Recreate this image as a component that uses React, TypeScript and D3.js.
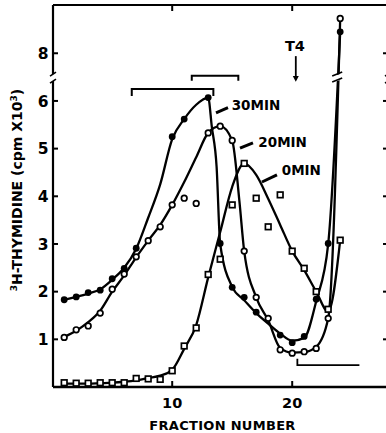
import { useEffect, useRef } from "react"
import * as d3 from "d3"

const W = 386
const H = 433

// 0 MIN  (open squares)
const frac0 = [1,2,3,4,5,6,7,8,9,10,11,12,13,14,15,16,17,18,19,20,21,22,23,24]
const cpm0 = [0.09,0.08,0.08,0.09,0.09,0.09,0.18,0.17,0.16,0.34,0.86,1.24,2.36,2.68,3.82,4.69,3.96,3.36,4.03,2.85,2.49,2.0,1.63,3.08]
// 20 MIN (open circles)
const frac20 = [1,2,3,4,5,6,7,8,9,10,11,12,13,14,15,16,17,18,19,20,21,22,23,24]
const cpm20 = [1.04,1.2,1.28,1.55,2.05,2.37,2.73,3.07,3.36,3.82,3.96,3.85,5.33,5.47,5.17,2.85,1.88,1.44,0.78,0.71,0.74,0.81,1.44,8.73]
// 30 MIN (filled circles)
const frac30 = [1,2,3,4,5,6,7,10,11,13,14,15,16,17,19,20,21,22,23,24]
const cpm30 = [1.83,1.89,1.98,2.03,2.27,2.49,2.91,5.25,5.62,6.07,3.01,2.09,1.88,1.57,1.09,0.93,1.06,1.84,3.01,8.45]

// hand drawn fit curves (knots)
const fit0Frac = [1,2,3,4,5,6,7,8,9,10,11,12,13,14,15,16,17,18,19,20,21,22,23,24]
const fit0Cpm = [0.07,0.07,0.07,0.08,0.09,0.11,0.14,0.19,0.24,0.36,0.8,1.3,2.3,3.25,4.2,4.69,4.45,3.95,3.4,2.85,2.45,2.0,1.58,3.08]
const fit20Frac = [1,2,3,4,5,6,7,8,9,10,11,12,13,14,15,15.6,16,17,18,19,20,21,22,23,24]
const fit20Cpm = [1.05,1.18,1.36,1.6,2.0,2.34,2.72,3.07,3.4,3.82,4.3,4.82,5.33,5.47,5.17,3.9,2.85,1.88,1.4,0.82,0.72,0.73,0.84,1.44,8.73]
const fit30Frac = [1,2,3,4,5,6,7,8,9,10,11,12,13,13.3,13.7,14,15,16,17,18,19,20,21,22,23,24]
const fit30Cpm = [1.83,1.89,1.96,2.05,2.25,2.5,2.9,3.55,4.25,5.2,5.62,5.92,6.07,5.46,4.62,3.0,2.1,1.82,1.55,1.33,1.12,0.97,1.03,1.8,3.0,8.45]

const yTicks = [1,2,3,4,5,6,8]
const xTicks = [10,20]
const seriesLabels = ["30MIN","20MIN","0MIN"]

export default function App() {
  const ref = useRef<SVGSVGElement>(null)

  useEffect(() => {
    const svg = d3.select(ref.current)
    svg.selectAll("*").remove()

    const x = d3.scaleLinear().domain([0, 28]).range([52.2, 388.2])
    // broken axis: 0..6.5 and 7.5..9
    const y = d3.scaleLinear().domain([0, 6.5, 7.5, 9]).range([387, 77.1, 77.1, 5.6])

    const font = "'DejaVu Sans', Arial, Helvetica, sans-serif"
    const g = svg.append("g")

    const left = 53, right = 388, top = 5, bottom = 387
    const yb = y(6.5)

    // frame
    g.append("line").attr("x1", left).attr("x2", right).attr("y1", bottom).attr("y2", bottom)
      .attr("stroke", "#000").attr("stroke-width", 2.6)
    g.append("line").attr("x1", left).attr("x2", right).attr("y1", top).attr("y2", top)
      .attr("stroke", "#000").attr("stroke-width", 2.2)
    for (const ax of [left, right]) {
      g.append("line").attr("x1", ax).attr("x2", ax).attr("y1", top).attr("y2", yb - 3)
        .attr("stroke", "#000").attr("stroke-width", 2.2)
      g.append("line").attr("x1", ax).attr("x2", ax).attr("y1", yb + 4).attr("y2", bottom)
        .attr("stroke", "#000").attr("stroke-width", 2.2)
      g.append("line").attr("x1", ax - 3).attr("x2", ax + 3).attr("y1", yb - 1).attr("y2", yb - 5)
        .attr("stroke", "#000").attr("stroke-width", 1.6)
      g.append("line").attr("x1", ax - 3).attr("x2", ax + 3).attr("y1", yb + 6).attr("y2", yb + 2)
        .attr("stroke", "#000").attr("stroke-width", 1.6)
    }

    // ticks
    yTicks.forEach(t => {
      g.append("line").attr("x1", left).attr("x2", left + 5).attr("y1", y(t)).attr("y2", y(t))
        .attr("stroke", "#000").attr("stroke-width", 2)
      g.append("line").attr("x1", right - 5).attr("x2", right).attr("y1", y(t)).attr("y2", y(t))
        .attr("stroke", "#000").attr("stroke-width", 2)
      g.append("text").attr("x", 48.5).attr("y", y(t) + 5.6).attr("text-anchor", "end")
        .attr("font-family", font).attr("font-weight", "bold").attr("font-size", 15.5).text(t)
    })
    xTicks.forEach(t => {
      g.append("line").attr("x1", x(t)).attr("x2", x(t)).attr("y1", bottom).attr("y2", bottom - 6)
        .attr("stroke", "#000").attr("stroke-width", 2)
      g.append("line").attr("x1", x(t)).attr("x2", x(t)).attr("y1", top).attr("y2", top + 6)
        .attr("stroke", "#000").attr("stroke-width", 2)
      g.append("text").attr("x", x(t)).attr("y", 408).attr("text-anchor", "middle")
        .attr("font-family", font).attr("font-weight", "bold").attr("font-size", 14.5).text(t)
    })

    g.append("text").attr("x", 222.5).attr("y", 429.5).attr("text-anchor", "middle")
      .attr("font-family", font).attr("font-weight", "bold").attr("font-size", 13)
      .attr("letter-spacing", 0.3).text("FRACTION NUMBER")

    const yl = g.append("text").attr("transform", "translate(21.5,190) rotate(-90)")
      .attr("text-anchor", "middle").attr("font-family", font).attr("font-weight", "bold")
      .attr("font-size", 14)
    yl.append("tspan").attr("font-size", 9).attr("dy", -5).text("3")
    yl.append("tspan").attr("dy", 5).text("H-THYMIDINE (cpm X10")
    yl.append("tspan").attr("font-size", 9).attr("dy", -5).text("3")
    yl.append("tspan").attr("dy", 5).text(")")

    // curves
    const line = d3.line<[number, number]>().x(d => x(d[0])).y(d => y(d[1])).curve(d3.curveMonotoneX)
    const fits: [number[], number[]][] = [[fit0Frac, fit0Cpm], [fit20Frac, fit20Cpm], [fit30Frac, fit30Cpm]]
    fits.forEach(([fx, fy]) => {
      g.append("path").attr("d", line(fx.map((f, i) => [f, fy[i]] as [number, number])))
        .attr("fill", "none").attr("stroke", "#000").attr("stroke-width", 2.3)
    })

    // break on the steep right-hand lines
    const bx = x(23.75)
    g.append("polygon")
      .attr("points", `${bx - 9},${yb + 1} ${bx + 9},${yb - 5} ${bx + 9},${yb + 1} ${bx - 9},${yb + 7}`)
      .attr("fill", "#fff")
    g.append("line").attr("x1", bx - 5).attr("x2", bx + 5).attr("y1", yb - 1).attr("y2", yb - 5)
      .attr("stroke", "#000").attr("stroke-width", 1.6)
    g.append("line").attr("x1", bx - 5).attr("x2", bx + 5).attr("y1", yb + 5).attr("y2", yb + 1)
      .attr("stroke", "#000").attr("stroke-width", 1.6)

    // points
    frac0.forEach((f, i) => {
      g.append("rect").attr("x", x(f) - 2.8).attr("y", y(cpm0[i]) - 2.8).attr("width", 5.6).attr("height", 5.6)
        .attr("fill", "#fff").attr("stroke", "#000").attr("stroke-width", 1.7)
    })
    frac20.forEach((f, i) => {
      g.append("circle").attr("cx", x(f)).attr("cy", y(cpm20[i])).attr("r", 2.8)
        .attr("fill", "#fff").attr("stroke", "#000").attr("stroke-width", 1.7)
    })
    frac30.forEach((f, i) => {
      g.append("circle").attr("cx", x(f)).attr("cy", y(cpm30[i])).attr("r", 3.4).attr("fill", "#000")
    })

    // series labels with leader dashes
    const labelPos = [[14.96, 5.8], [17.18, 5.03], [19.13, 4.44]]
    const leaders = [[13.65, 5.75, 14.65, 5.86], [15.65, 5.01, 16.73, 5.12], [17.48, 4.3, 18.73, 4.45]]
    seriesLabels.forEach((s, i) => {
      g.append("text").attr("x", x(labelPos[i][0])).attr("y", y(labelPos[i][1]))
        .attr("font-family", font).attr("font-weight", "bold").attr("font-size", 13.5).text(s)
      const l = leaders[i]
      g.append("line").attr("x1", x(l[0])).attr("y1", y(l[1])).attr("x2", x(l[2])).attr("y2", y(l[3]))
        .attr("stroke", "#000").attr("stroke-width", 3)
    })

    // T4 marker
    g.append("text").attr("x", x(20.23)).attr("y", y(8.05)).attr("text-anchor", "middle")
      .attr("font-family", font).attr("font-weight", "bold").attr("font-size", 14.5).text("T4")
    g.append("line").attr("x1", x(20.3)).attr("x2", x(20.3)).attr("y1", y(7.94)).attr("y2", y(6.45))
      .attr("stroke", "#000").attr("stroke-width", 1.8)
    g.append("path")
      .attr("d", `M${x(20.3) - 3},${y(6.5) - 1} L${x(20.3) + 3},${y(6.5) - 1} L${x(20.3)},${y(6.4)} Z`)
      .attr("fill", "#000")

    // brackets
    const bracket = (a: number, b: number, v: number, drop: number) => {
      g.append("path")
        .attr("d", `M${x(a)},${y(v) + drop} V${y(v)} H${x(b)} V${y(v) + drop}`)
        .attr("fill", "none").attr("stroke", "#000").attr("stroke-width", 2)
    }
    bracket(6.63, 13.43, 6.25, 7)
    bracket(11.63, 15.51, 7.53, 5)
    g.append("path")
      .attr("d", `M${x(20.43)},${y(0.59)} V${y(0.46)} H${x(25.6)}`)
      .attr("fill", "none").attr("stroke", "#000").attr("stroke-width", 1.8)
  }, [])

  return (
    <svg ref={ref} width={W} height={H}
      style={{ position: "absolute", left: 0, top: 0, background: "#fff" }} />
  )
}
